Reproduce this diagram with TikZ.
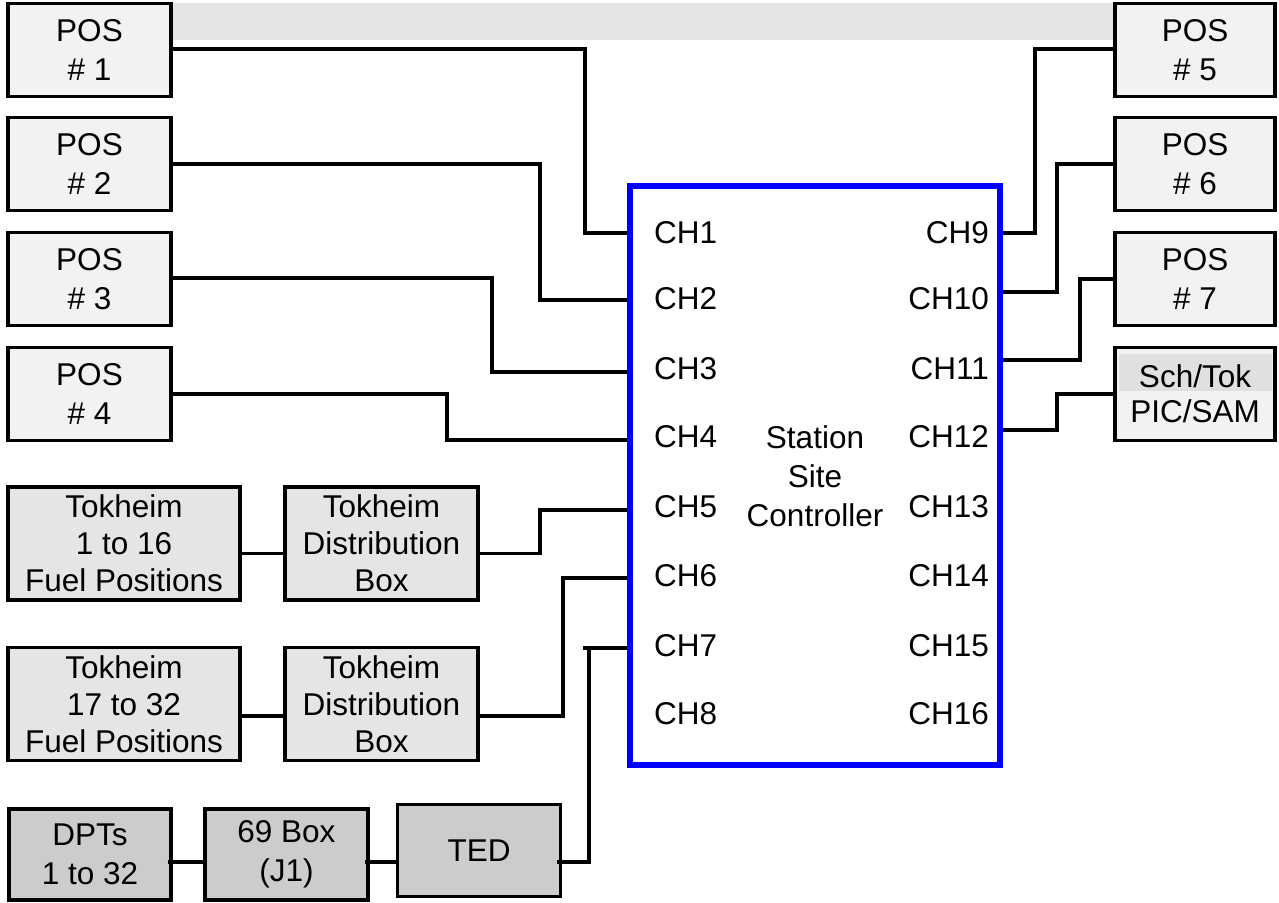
\documentclass[tikz,border=0pt]{standalone}
\usepackage{fontspec}
\setmainfont{Liberation Sans}
\definecolor{posfill}{HTML}{F2F2F2}
\definecolor{tokfill}{HTML}{E5E5E5}
\definecolor{dptfill}{HTML}{CCCCCC}
\definecolor{barfill}{HTML}{E5E5E5}
\definecolor{bandfill}{HTML}{E0E0E0}
\begin{document}
\begin{tikzpicture}[x=1pt,y=-1pt,
  txt/.style={font=\fontsize{31.5}{39}\selectfont, align=center, inner sep=0pt},
  box/.style={txt, draw=black, line width=3.4pt},
  posbox/.style={box, fill=posfill, minimum width=163pt, minimum height=93pt},
  rposbox/.style={box, fill=posfill, minimum width=160pt, minimum height=93pt},
  tokbox/.style={box, fill=tokfill, minimum height=113pt, font=\fontsize{31.5}{37}\selectfont},
  dptbox/.style={box, fill=dptfill, minimum height=91pt},
  conn/.style={draw=black, line width=3.1pt},
  chl/.style={txt, anchor=west},
  chr/.style={txt, anchor=east}]
\useasboundingbox (0,0) rectangle (1279,902);
% top bar
\fill[barfill] (172,3) rectangle (1115,40);
% left POS boxes
\node[posbox] (p1) at (89.5,50) {POS\\\# 1};
\node[posbox] (p2) at (89.5,164) {POS\\\# 2};
\node[posbox] (p3) at (89.5,279) {POS\\\# 3};
\node[posbox] (p4) at (89.5,394) {POS\\\# 4};
% right POS boxes
\node[rposbox] (p5) at (1195,50) {POS\\\# 5};
\node[rposbox] (p6) at (1195,164) {POS\\\# 6};
\node[rposbox] (p7) at (1195,279) {POS\\\# 7};
\node[rposbox] (st) at (1195,394) {};
\fill[bandfill] (1119,354) rectangle (1272,391);
\node[txt, font=\fontsize{31.5}{35}\selectfont] (stt) at (st.center) {Sch/Tok\\PIC/SAM};
% controller
\node[draw=blue, line width=6pt, minimum width=370pt, minimum height=579pt, inner sep=0pt] (ctrl) at (815,475.5) {};
\node[txt] (ssc) at (815,476) {Station\\Site\\Controller};
\foreach \n/\y in {1/233,2/299,3/369,4/437,5/507,6/576,7/646,8/714} {
  \node[chl] (ch\n) at (654,\y) {CH\n};
}
\foreach \n/\y in {9/233,10/299,11/369,12/437,13/507,14/576,15/646,16/714} {
  \node[chr] (ch\n) at (989,\y) {CH\n};
}
% Tokheim rows
\node[tokbox, minimum width=232pt] (t1) at (124,543.5) {Tokheim\\1 to 16\\Fuel Positions};
\node[tokbox, minimum width=193pt] (d1) at (381.5,543.5) {Tokheim\\Distribution\\Box};
\node[tokbox, minimum width=232pt] (t2) at (124,704) {Tokheim\\17 to 32\\Fuel Positions};
\node[tokbox, minimum width=193pt] (d2) at (381.5,704) {Tokheim\\Distribution\\Box};
% bottom row
\node[dptbox, minimum width=162pt] (dpt) at (90,854.5) {DPTs\\1 to 32};
\node[dptbox, minimum width=163pt] (b69) at (286.5,854.5) {69 Box\\(J1)};
\node[dptbox, minimum width=163pt, minimum height=92pt] (ted) at (479,850.5) {TED};
% coordinates on controller border
\coordinate (w1) at (ctrl.west |- 0,233);
\coordinate (w2) at (ctrl.west |- 0,300);
\coordinate (w3) at (ctrl.west |- 0,372);
\coordinate (w4) at (ctrl.west |- 0,440);
\coordinate (w5) at (ctrl.west |- 0,510);
\coordinate (w6) at (ctrl.west |- 0,578);
\coordinate (w7) at (ctrl.west |- 0,648);
\coordinate (e9) at (ctrl.east |- 0,233);
\coordinate (e10) at (ctrl.east |- 0,292);
\coordinate (e11) at (ctrl.east |- 0,360);
\coordinate (e12) at (ctrl.east |- 0,430);
% left connectors
\draw[conn] ([yshift=1pt]p1.east) -- (585,49) |- (w1);
\draw[conn] (p2.east) -| (540,300) -- (w2);
\draw[conn] ([yshift=1pt]p3.east) -- (492,278) |- (w3);
\draw[conn] (p4.east) -| (447,440) -- (w4);
\draw[conn] ([yshift=-10pt]t1.east) -- ([yshift=-10pt]d1.west);
\draw[conn] ([yshift=-10pt]d1.east) -- (540,553.5) |- (w5);
\draw[conn] ([yshift=-12pt]t2.east) -- ([yshift=-12pt]d2.west);
\draw[conn] ([yshift=-12pt]d2.east) -- (563,716) |- (w6);
\draw[conn] ([yshift=-7.5pt,xshift=-5pt]dpt.east) -- ([yshift=-7.5pt]b69.west);
\draw[conn] ([yshift=-7.5pt,xshift=-5pt]b69.east) -- ([yshift=-11.5pt]ted.west);
\draw[conn] ([yshift=-11.5pt,xshift=-5pt]ted.east) -- (589,862) -- (589,648);
\draw[conn] (583,648) -- (w7);
% right connectors
\draw[conn] (e9) -| (1035,49) -- ([yshift=1pt]p5.west);
\draw[conn] (e10) -| (1057,164) -- (p6.west);
\draw[conn] (e11) -| (1080,279) -- (p7.west);
\draw[conn] (e12) -| (1057,394) -- (st.west);
\end{tikzpicture}
\end{document}
